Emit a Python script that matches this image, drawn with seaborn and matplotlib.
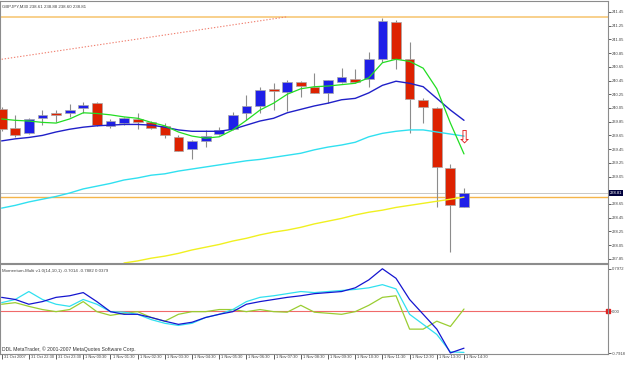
import numpy as np
import pandas as pd
import seaborn as sns
import matplotlib.pyplot as plt
from matplotlib.transforms import blended_transform_factory, ScaledTranslation

# GBPJPY M30 candles, 31 Oct 2007 21:30 -> 1 Nov 2007 14:30
opens  = [240.03, 239.76, 239.68, 239.90, 239.98, 239.98, 240.05, 240.12, 239.79, 239.83,
          239.89, 239.84, 239.79, 239.63, 239.45, 239.57, 239.67, 239.74, 239.98, 240.08,
          240.33, 240.28, 240.43, 240.36, 240.27, 240.43, 240.47, 240.47, 240.76, 241.30,
          240.76, 240.16, 240.05, 239.17, 238.61]
highs  = [240.06, 239.95, 239.90, 240.02, 240.02, 240.11, 240.14, 240.13, 239.89, 239.92,
          239.98, 239.86, 239.83, 239.65, 239.58, 239.73, 239.77, 239.99, 240.24, 240.36,
          240.41, 240.46, 240.45, 240.56, 240.46, 240.63, 240.62, 240.87, 241.36, 241.33,
          241.01, 240.19, 240.06, 239.23, 238.88]
lows   = [239.71, 239.63, 239.67, 239.80, 239.84, 239.92, 239.98, 239.79, 239.76, 239.80,
          239.74, 239.74, 239.61, 239.42, 239.30, 239.48, 239.65, 239.73, 239.87, 239.98,
          240.02, 240.00, 240.21, 240.27, 240.12, 240.41, 240.41, 240.36, 240.72, 240.62,
          239.68, 239.83, 238.60, 237.95, 238.60]
closes = [239.74, 239.65, 239.89, 239.95, 239.95, 240.02, 240.09, 239.80, 239.86, 239.90,
          239.84, 239.76, 239.65, 239.42, 239.57, 239.64, 239.73, 239.95, 240.08, 240.31,
          240.30, 240.43, 240.37, 240.27, 240.46, 240.50, 240.43, 240.76, 241.32, 240.76,
          240.18, 240.06, 239.19, 238.63, 238.81]

# moving averages
ma_green = [239.89, 239.87, 239.86, 239.84, 239.83, 239.89, 239.98, 239.97, 239.95, 239.92,
            239.90, 239.84, 239.79, 239.70, 239.64, 239.61, 239.63, 239.73, 239.87, 240.02,
            240.12, 240.25, 240.33, 240.36, 240.37, 240.39, 240.41, 240.49, 240.71, 240.76,
            240.73, 240.63, 240.33, 239.83, 239.38]
ma_blue = [239.57, 239.60, 239.62, 239.65, 239.70, 239.74, 239.77, 239.79, 239.80, 239.81,
           239.81, 239.80, 239.77, 239.73, 239.71, 239.71, 239.71, 239.74, 239.80, 239.86,
           239.90, 239.98, 240.03, 240.08, 240.12, 240.17, 240.19, 240.27, 240.38, 240.44,
           240.41, 240.36, 240.19, 240.02, 239.87]
ma_cyan = [238.59, 238.63, 238.68, 238.72, 238.76, 238.81, 238.87, 238.91, 238.95, 239.00,
           239.03, 239.07, 239.09, 239.13, 239.16, 239.19, 239.22, 239.25, 239.28, 239.30,
           239.33, 239.36, 239.39, 239.44, 239.48, 239.51, 239.55, 239.63, 239.68, 239.71,
           239.73, 239.73, 239.70, 239.67, 239.64]
ma_yellow = [np.nan] * 9 + [237.79, 237.82, 237.86, 237.89, 237.93, 237.98, 238.02, 238.06,
             238.11, 238.15, 238.20, 238.24, 238.27, 238.31, 238.36, 238.40, 238.44, 238.49,
             238.53, 238.56, 238.60, 238.63, 238.66, 238.69, 238.72, 238.75]
trend_x = [0, 21]
trend_y = [240.76, 241.38]
level_top = 241.38
level_low = 238.75
bid = 238.81

# Momentum-Multi indicator
mom_blue = [0.26, 0.22, 0.13, 0.18, 0.26, 0.29, 0.35, 0.18, -0.01, -0.06,
            -0.06, -0.12, -0.19, -0.25, -0.21, -0.12, -0.06, -0.01, 0.13, 0.18,
            0.22, 0.26, 0.29, 0.33, 0.35, 0.37, 0.44, 0.59, 0.80, 0.62,
            0.22, -0.06, -0.34, -0.79, -0.70]
mom_cyan = [0.16, 0.22, 0.37, 0.22, 0.13, 0.09, 0.22, 0.13, -0.01, -0.02,
            -0.06, -0.16, -0.23, -0.27, -0.23, -0.12, -0.06, 0.03, 0.18, 0.26,
            0.29, 0.33, 0.37, 0.35, 0.37, 0.39, 0.41, 0.44, 0.50, 0.42,
            -0.06, -0.25, -0.44, -0.77, -0.78]
mom_green = [0.13, 0.16, 0.09, 0.03, -0.01, 0.03, 0.18, -0.01, -0.08, -0.04,
             -0.01, -0.12, -0.19, -0.06, -0.01, -0.01, 0.03, 0.03, -0.01, 0.03,
             -0.01, -0.02, 0.11, -0.02, -0.04, -0.06, -0.01, 0.11, 0.26, 0.29,
             -0.34, -0.34, -0.19, -0.29, 0.04]

date_labels = ['31 Oct 2007', '31 Oct 22:30', '31 Oct 23:30', '1 Nov 00:30', '1 Nov 01:30',
               '1 Nov 02:30', '1 Nov 03:30', '1 Nov 04:30', '1 Nov 05:30', '1 Nov 06:30',
               '1 Nov 07:30', '1 Nov 08:30', '1 Nov 09:30', '1 Nov 10:30', '1 Nov 11:30',
               '1 Nov 12:30', '1 Nov 13:30', '1 Nov 14:30']
price_ticks = [237.85, 238.05, 238.25, 238.45, 238.65, 239.05, 239.25, 239.45, 239.65,
               239.85, 240.05, 240.25, 240.45, 240.65, 240.85, 241.05, 241.25, 241.45]

sns.set_style("white")
plt.rcParams['font.family'] = ['Liberation Sans', 'DejaVu Sans']
grey = '#8c8c8c'
txt = '#444444'

fig = plt.figure(figsize=(6.25, 3.65), dpi=100, facecolor='white')
ax = fig.add_axes([0.0, 0.2795, 0.9728, 0.7178])
axm = fig.add_axes([0.0, 0.0301, 0.9728, 0.2466], sharex=ax)

idx = np.arange(len(closes))
o, h, l, c = map(np.array, (opens, highs, lows, closes))
up = c >= o

# candles
ax.vlines(idx, l, h, color=grey, lw=0.8, zorder=2)
ax.bar(idx, np.abs(c - o), bottom=np.minimum(o, c), width=0.72,
       color=np.where(up, '#1f1fe8', '#dd2200'), edgecolor='#a8a8a8', linewidth=0.5, zorder=3)

# horizontal levels
ax.axhline(level_top, color='#f7c46c', lw=1.1, zorder=1)
ax.axhline(bid, color='#c8c8c8', lw=0.7, zorder=1)
ax.axhline(level_low, color='#f5b54a', lw=1.0, zorder=1)

# moving averages
sns.lineplot(x=trend_x, y=trend_y, ax=ax, color='#f08070', lw=0.8, linestyle=(0, (1.2, 1.6)), zorder=4)
sns.lineplot(x=idx, y=ma_yellow, ax=ax, color='#f0f020', lw=1.0, estimator=None, zorder=4)
sns.lineplot(x=idx, y=ma_cyan, ax=ax, color='#30e0f0', lw=1.0, estimator=None, zorder=4)
sns.lineplot(x=idx, y=ma_blue, ax=ax, color='#2020c8', lw=1.0, estimator=None, zorder=4)
sns.lineplot(x=idx, y=ma_green, ax=ax, color='#22dd22', lw=0.9, estimator=None, zorder=5)

# sell arrow
ax.text(idx[-1], 239.62, '\u21e9', color='#e02020', size=13, ha='center', va='center',
        family='DejaVu Sans', zorder=6)

ax.set_xlim(-0.12, 44.59)
ax.set_ylim(237.79, 241.61)
ax.yaxis.tick_right()
ax.set_yticks(price_ticks)
ax.set_yticklabels([f'{t:.2f}' for t in price_ticks])
ax.tick_params(axis='y', right=True, left=False, length=2, width=0.6, colors=txt,
               labelsize=3, pad=1)
ax.tick_params(axis='x', bottom=False, labelbottom=False)
ax.set_xlabel('')
ax.set_ylabel('')

# current price box
tr = blended_transform_factory(ax.transAxes, ax.transData)
ax.text(1.003, bid, f'{bid:.2f}', transform=tr, color='white', size=3, va='center', ha='left',
        bbox=dict(boxstyle='square,pad=0.2', fc='#00003c', ec='none'), clip_on=False)

ax.text(0.004, 0.985, 'GBPJPY,M30 238.61 238.88 238.60 238.81', transform=ax.transAxes,
        size=3.2, color=txt, va='top', ha='left')

# momentum panel
axm.axhline(0, color='#f06a6a', lw=0.8, zorder=1)
sns.lineplot(x=idx, y=mom_green, ax=axm, color='#9acd32', lw=0.9, estimator=None, zorder=3)
sns.lineplot(x=idx, y=mom_cyan, ax=axm, color='#30e0f0', lw=0.9, estimator=None, zorder=3)
sns.lineplot(x=idx, y=mom_blue, ax=axm, color='#1515d0', lw=0.9, estimator=None, zorder=4)
axm.set_ylim(-0.81, 0.89)
axm.yaxis.tick_right()
axm.set_yticks([-0.7918, 0.0, 0.7972])
axm.set_yticklabels(['-0.7918', '0.00', '0.7972'])
axm.tick_params(axis='y', right=True, left=False, length=2, width=0.6, colors=txt,
                labelsize=3, pad=1)
trm = blended_transform_factory(axm.transAxes, axm.transData)
axm.plot([1.0], [0.0], marker='s', ms=2.5, color='#e02020', transform=trm, clip_on=False)

axm.text(0.004, 0.95, 'Momentum-Multi v1.0(14,10,1) -0.7014 -0.7882 0.0379',
         transform=axm.transAxes, size=3.2, color=txt, va='top', ha='left')
axm.text(0.004, 0.02, 'DDL MetaTrader, \u00a9 2001-2007 MetaQuotes Software Corp.',
         transform=axm.transAxes, size=3.6, color='#333333', va='bottom', ha='left')

axm.set_xticks(idx[::2])
axm.set_xticklabels(date_labels, ha='left')
axm.tick_params(axis='x', bottom=True, length=3.5, width=0.6, colors=txt, labelsize=2.9, pad=-3)
shift = ScaledTranslation(1.5 / 72, 0, fig.dpi_scale_trans)
for lbl in axm.get_xticklabels():
    lbl.set_transform(lbl.get_transform() + shift)
axm.set_xlabel('')
axm.set_ylabel('')

for a in (ax, axm):
    a.set_facecolor('white')
    for sp in a.spines.values():
        sp.set_visible(True)
        sp.set_color(grey)
        sp.set_linewidth(0.8)

fig.savefig('out.png', dpi=100, facecolor='white')
